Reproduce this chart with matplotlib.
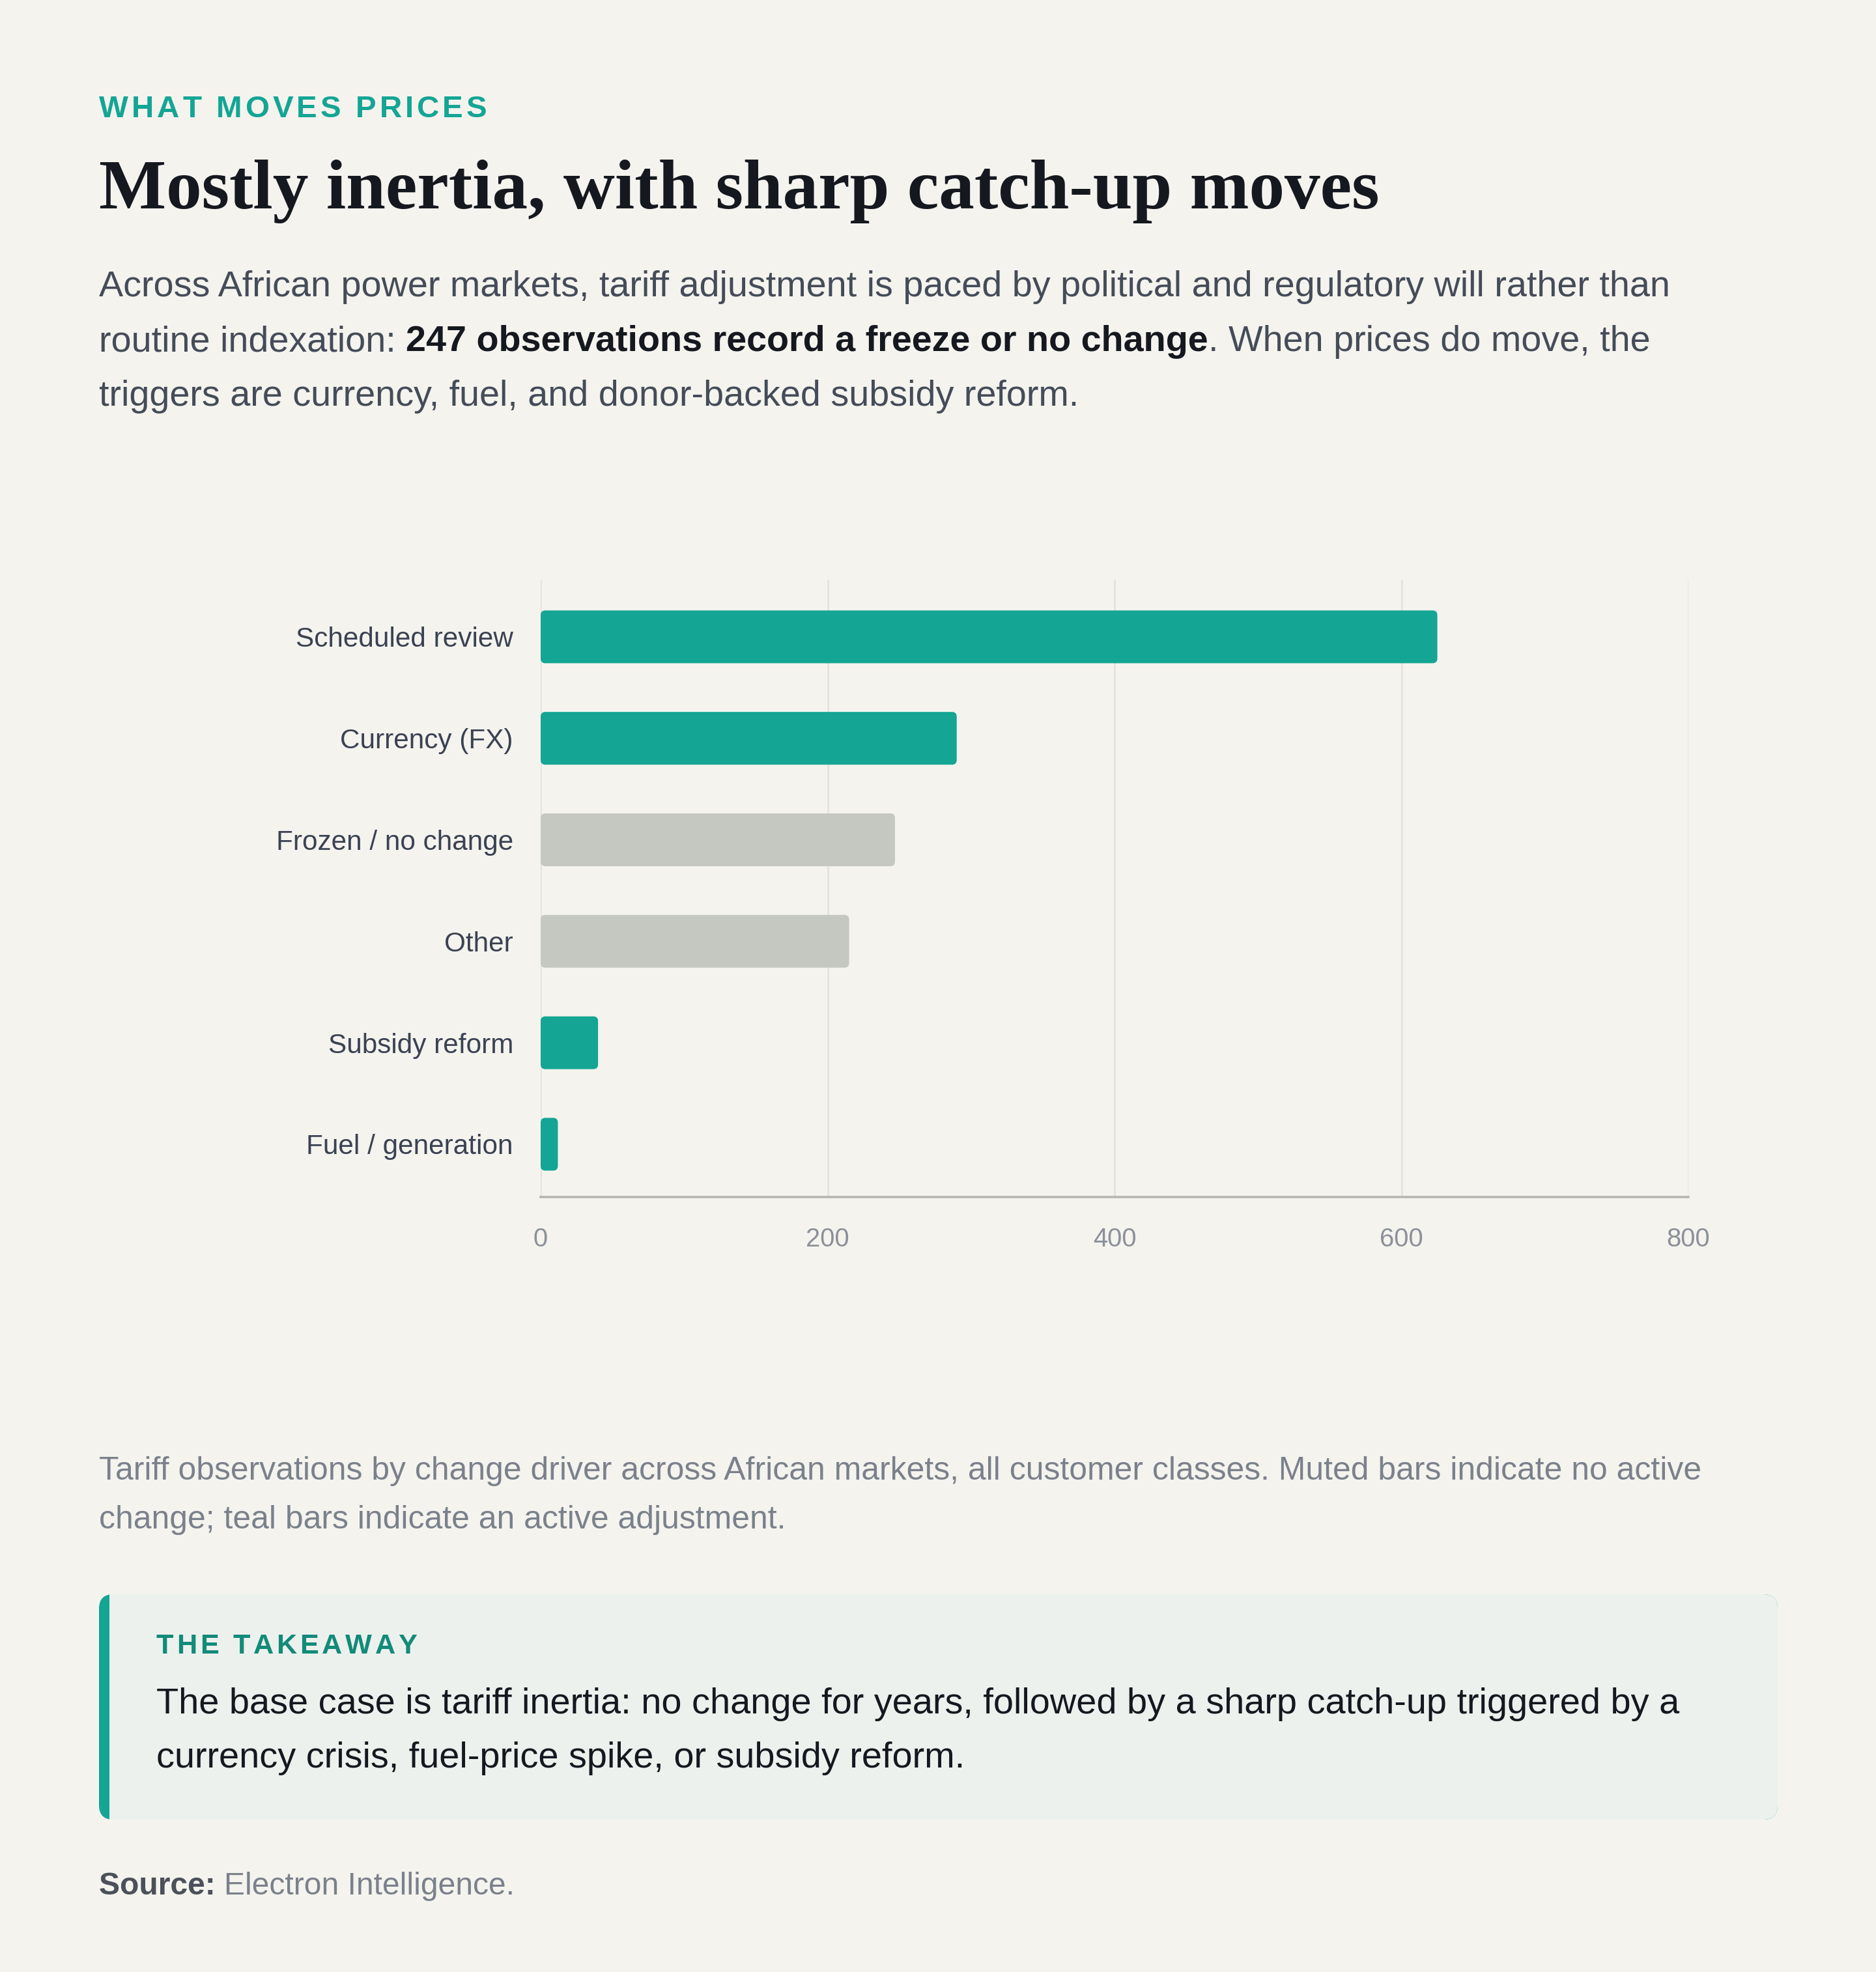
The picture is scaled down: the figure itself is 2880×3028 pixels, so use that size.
import matplotlib
matplotlib.use("Agg")
import matplotlib.pyplot as plt
from matplotlib.patches import FancyBboxPatch, Rectangle

W, H, DPI = 2880, 3028, 200

categories = ["Scheduled review", "Currency (FX)", "Frozen / no change",
              "Other", "Subsidy reform", "Fuel / generation"]
counts = [625, 290, 247, 215, 40, 12]
active = [True, True, False, False, True, True]
x_ticks = [0, 200, 400, 600, 800]

BG = "#f4f3ee"
TEAL = "#14a594"
TEAL_DARK = "#128b79"
MUTED = "#c5c8c0"
INK = "#15181f"
SLATE = "#454c58"
GREY = "#7b818b"

SANS = "Liberation Sans"
SERIF = "Liberation Serif"


def pt(px):
    return px * 72 / DPI


fig = plt.figure(figsize=(W / DPI, H / DPI), dpi=DPI, facecolor=BG)
renderer = fig.canvas.get_renderer()

# full-figure overlay in pixel coordinates for text and the takeaway box
lay = fig.add_axes([0, 0, 1, 1], zorder=0)
lay.set_xlim(0, W)
lay.set_ylim(H, 0)
lay.axis("off")


def text_width(s, **kw):
    t = lay.text(0, 0, s + "|", **kw)
    b = lay.text(0, 0, "|", **kw)
    w = t.get_window_extent(renderer).width - b.get_window_extent(renderer).width
    t.remove()
    b.remove()
    return w


def runs(x, y, parts, size, family=SANS):
    for s, weight, color in parts:
        kw = dict(fontsize=size, fontweight=weight, family=family)
        lay.text(x, y, s, color=color, va="baseline", ha="left", **kw)
        x += text_width(s, **kw)


def tracked(x, y, s, size, color, track_px):
    kw = dict(fontsize=size, fontweight="bold", family=SANS)
    for ch in s:
        lay.text(x, y, ch, color=color, va="baseline", ha="left", **kw)
        x += text_width(ch, **kw) + track_px


# header
tracked(152, 180, "WHAT MOVES PRICES", pt(47.5), TEAL, 4.9)
lay.text(152, 320, "Mostly inertia, with sharp catch-up moves", family=SERIF,
         fontweight="bold", fontsize=pt(109.3), color=INK, va="baseline")

sub = pt(55.8)
runs(152, 455, [("Across African power markets, tariff adjustment is paced by political "
                 "and regulatory will rather than", "normal", SLATE)], sub)
runs(152, 539, [("routine indexation: ", "normal", SLATE),
                ("247 observations record a freeze or no change", "bold", INK),
                (". When prices do move, the", "normal", SLATE)], sub)
runs(152, 623, [("triggers are currency, fuel, and donor-backed subsidy reform.",
                 "normal", SLATE)], sub)

# chart
ax = fig.add_axes([830 / W, 1 - 1838 / H, (2592 - 830) / W, (1838 - 889.5) / H], zorder=2)
ax.set_facecolor("none")
ypos = list(range(len(categories)))
bars = ax.barh(ypos, counts, height=0.52, color=[TEAL if a else MUTED for a in active])
ax.set_xlim(0, 800)
ax.set_ylim(5.52, -0.567)

# swap plain rectangles for rounded ones, corrected for the axes aspect
(x0, y0), (x1, y1) = ax.transData.transform([(0, 0), (1, 1)])
aspect = abs(x1 - x0) / abs(y1 - y0)
for r in bars:
    r.set_visible(False)
    ax.add_patch(FancyBboxPatch((r.get_x(), r.get_y()), r.get_width(), r.get_height(),
                                boxstyle="round,pad=0,rounding_size=3.3",
                                mutation_aspect=aspect, facecolor=r.get_facecolor(),
                                edgecolor="none", zorder=3))

ax.set_yticks(ypos)
ax.set_yticklabels(categories, family=SANS, fontsize=pt(42.3), color="#3b4252")
ax.set_xticks(x_ticks)
ax.set_xticklabels([str(v) for v in x_ticks], family=SANS, fontsize=pt(40), color="#8b9099")
ax.tick_params(axis="y", length=0, pad=pt(42))
ax.tick_params(axis="x", length=0, pad=pt(46))
ax.grid(axis="x", color="#e2e1dc", linewidth=pt(2.5), zorder=0)
ax.set_axisbelow(True)
for side in ["top", "right", "left"]:
    ax.spines[side].set_visible(False)
ax.spines["bottom"].set_color("#b3b6ad")
ax.spines["bottom"].set_linewidth(pt(3.5))

# caption
cap = pt(49.9)
runs(152, 2272, [("Tariff observations by change driver across African markets, all customer "
                  "classes. Muted bars indicate no active", "normal", GREY)], cap)
runs(152, 2347, [("change; teal bars indicate an active adjustment.", "normal", GREY)], cap)

# takeaway box
bx0, bx1, by0, by1 = 152, 2729, 2448, 2794
lay.add_patch(FancyBboxPatch((bx0, by0), bx1 - bx0, by1 - by0,
                             boxstyle="round,pad=0,rounding_size=22",
                             facecolor=TEAL, edgecolor="none"))
lay.add_patch(FancyBboxPatch((bx0 + 16, by0), bx1 - bx0 - 16, by1 - by0,
                             boxstyle="round,pad=0,rounding_size=22",
                             facecolor="#edf1ed", edgecolor="none"))
lay.add_patch(Rectangle((bx0 + 16, by0), 40, by1 - by0, facecolor="#edf1ed",
                        edgecolor="none"))
tracked(240, 2539, "THE TAKEAWAY", pt(43.3), TEAL_DARK, 4.7)
body = pt(55.9)
runs(240, 2631, [("The base case is tariff inertia: no change for years, followed by a sharp "
                  "catch-up triggered by a", "normal", INK)], body)
runs(240, 2714, [("currency crisis, fuel-price spike, or subsidy reform.", "normal", INK)], body)

# source
runs(152, 2909, [("Source: ", "bold", "#4b5059"),
                 ("Electron Intelligence.", "normal", GREY)], pt(48))

fig.savefig("out.png", dpi=DPI, facecolor=BG)
